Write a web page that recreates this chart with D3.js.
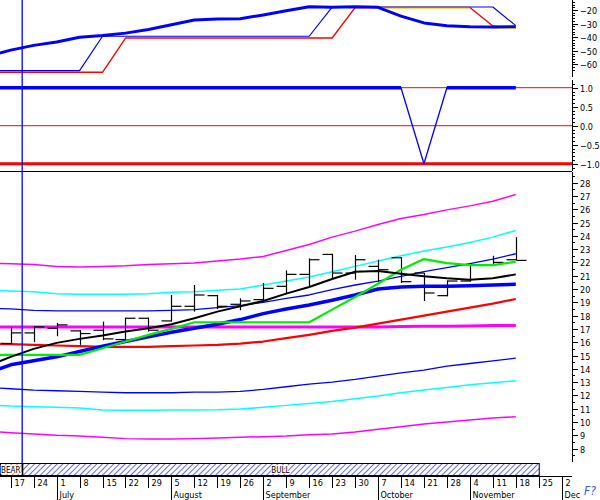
<!DOCTYPE html>
<html><head><meta charset="utf-8">
<script src="https://cdn.jsdelivr.net/npm/d3@7"></script>
<style>
body{margin:0;background:#fff}
svg{display:block;background:#fff}
text{font-family:"DejaVu Sans Condensed","Liberation Sans Narrow","DejaVu Sans",sans-serif;}
</style>
</head><body><svg id="c" width="600" height="500"></svg>
<script>
// ---------- DATA ----------
const weeks = ["2002-06-10","2002-06-17","2002-06-24","2002-07-01","2002-07-08","2002-07-15","2002-07-22","2002-07-29",
  "2002-08-05","2002-08-12","2002-08-19","2002-08-26","2002-09-02","2002-09-09","2002-09-16","2002-09-23","2002-09-30",
  "2002-10-07","2002-10-14","2002-10-21","2002-10-28","2002-11-04","2002-11-11","2002-11-18"];

// top panel
const p1Curve  = [-54,-49.5,-46,-43.5,-40,-38.8,-37,-34.3,-30.8,-27.3,-26.6,-26.4,-23.6,-20.5,-17.6,-18,-17.6,-18,-24.5,-29.5,-31.5,-32.3,-32.5,-32.3];
const p1Blue   = [-64.6,-64.6,-64.6,-64.6,-64.6,-39.3,-39.3,-39.3,-39.3,-39.3,-39.3,-39.3,-39.3,-39.3,-39.3,-17.8,-17.8,-17.8,-17.8,-17.8,-17.8,-17.8,-17.8,-31.5];
const p1Red    = [-65.8,-65.8,-65.8,-65.8,-65.8,-65.8,-40.6,-40.6,-40.6,-40.6,-40.6,-40.6,-40.6,-40.6,-40.6,-40.6,-18.2,-18.2,-18.2,-18.2,-18.2,-18.2,-31.8,-33.5];
const p1Yellow = [null,null,null,null,null,null,null,null,null,null,null,null,null,null,null,null,null,-18.2,-18.2,-18.2,-18.2,-18.2,-33.3,-33.5];
const p1YellowSegments = [[17,21],[22,23]];

// middle panel
const p2Blue = [1,1,1,1,1,1,1,1,1,1,1,1,1,1,1,1,1,1,1,-1,1,1,1,1];
const p2Levels = [1,0];
const p2ThickLevel = -1;

// price panel bands and averages
const upperMagenta = [21.95,21.9,21.85,21.7,21.65,21.7,21.75,21.85,21.9,21.95,22.1,22.25,22.45,22.9,23.35,23.9,24.35,24.85,25.3,25.6,25.95,26.25,26.6,27.1];
const upperCyan    = [19.9,19.85,19.8,19.65,19.6,19.6,19.6,19.65,19.75,19.8,19.9,20.0,20.3,20.6,20.9,21.3,21.7,22.1,22.5,22.85,23.15,23.5,23.9,24.4];
const upperBlue    = [18.55,18.5,18.4,18.35,18.35,18.35,18.35,18.35,18.4,18.45,18.6,18.75,19.0,19.3,19.55,19.95,20.3,20.6,20.95,21.3,21.6,21.9,22.25,22.65];
const midMagenta   = [17.15,17.15,17.15,17.15,17.15,17.15,17.15,17.15,17.15,17.15,17.15,17.15,17.15,17.15,17.15,17.15,17.15,17.15,17.18,17.2,17.2,17.22,17.25,17.25];
const redLine      = [15.9,15.85,15.8,15.75,15.7,15.65,15.65,15.65,15.7,15.75,15.8,15.9,16.05,16.3,16.55,16.85,17.1,17.4,17.7,18.0,18.3,18.6,18.9,19.25];
const thickBlue    = [13.7,14.3,14.6,14.9,15.3,15.7,16.05,16.4,16.75,17.05,17.35,17.7,18.15,18.5,18.8,19.15,19.55,20.0,20.15,20.2,20.2,20.25,20.3,20.35];
const blackLine    = [14.2,14.9,15.5,15.95,16.25,16.5,16.8,17.05,17.35,17.8,18.3,18.7,19.1,19.65,20.15,20.75,21.3,21.35,21.15,20.95,20.8,20.7,20.8,21.1];
const greenLine    = [15.05,15.05,15.05,15.05,15.05,15.55,16.05,16.55,17.0,17.5,17.5,17.5,17.5,17.5,17.5,18.45,19.4,20.4,21.45,22.25,21.95,21.8,21.8,22.05];
const lowerBlue    = [12.6,12.5,12.4,12.35,12.3,12.25,12.2,12.2,12.2,12.25,12.25,12.3,12.45,12.65,12.85,13.0,13.2,13.45,13.7,13.9,14.2,14.4,14.6,14.8];
const lowerCyan    = [11.3,11.2,11.15,11.1,11.05,10.9,10.88,10.88,10.9,10.9,10.92,10.98,11.1,11.25,11.4,11.55,11.75,11.95,12.2,12.4,12.6,12.8,12.95,13.1];
const lowerMagenta = [9.3,9.2,9.1,9.0,8.95,8.85,8.75,8.72,8.72,8.75,8.8,8.85,8.9,8.95,9.05,9.1,9.25,9.45,9.65,9.85,10.0,10.15,10.3,10.4];

// weekly price bars (Jun 17 .. Nov 18)
const barDates = weeks.slice(1);
const opens  = [15.9,16.7,17.05,16.85,16.9,16.2,17.8,17.6,18.7,19.5,18.85,19.2,20.2,21.1,22.6,21.2,21.7,22.35,21.2,19.5,20.6,21.8,22.2];
const highs  = [17.1,17.2,17.45,16.9,17.55,17.85,17.85,19.55,20.3,19.55,19.3,20.45,21.4,22.3,22.65,22.55,22.2,22.4,21.2,20.65,21.95,22.5,23.9];
const lows   = [15.9,16.0,16.45,15.8,16.15,16.1,16.8,17.55,18.3,18.5,18.4,19.05,19.7,20.2,20.8,20.7,20.55,20.45,19.1,19.45,20.55,21.75,22.15];
const closes = [16.7,17.15,17.3,16.65,16.25,17.8,16.9,18.7,19.55,18.7,19.1,20.05,21.1,22.2,21.2,22.2,21.45,20.55,19.7,20.6,21.8,22.0,22.15];

const cursorDate = "2002-06-20T12:00";

// axes tick labels
const p1Ticks = [-20,-30,-40,-50,-60];
const p2Ticks = [1.0,0.5,0.0,-0.5,-1.0];
const p3Ticks = d3.range(8,29);
const dateTicks = ["2002-06-17","2002-06-24","2002-07-01","2002-07-08","2002-07-15","2002-07-22","2002-07-29","2002-08-05",
  "2002-08-12","2002-08-19","2002-08-26","2002-09-02","2002-09-09","2002-09-16","2002-09-23","2002-09-30","2002-10-07",
  "2002-10-14","2002-10-21","2002-10-28","2002-11-04","2002-11-11","2002-11-18","2002-11-25","2002-12-02"];
const monthStarts = ["2002-07-01","2002-08-05","2002-09-02","2002-10-07","2002-11-04","2002-12-02"];
const monthNames = ["July","August","September","October","November","Dec"];
const trendLabels = ["BEAR","BULL"];
const trendSpans = [["2002-06-10","2002-06-20T12:00"],["2002-06-20T12:00","2002-11-25"]];

// ---------- DRAW ----------
const P = s => new Date(s.length > 10 ? s + ":00Z" : s + "T00:00:00Z");
const svg = d3.select("#c");
const AX = 572;

const x = d3.scaleUtc().domain([P("2002-06-17"), P("2002-12-02")]).range([10.7, 561.7]);
const y1 = d3.scaleLinear().domain([-20,-60]).range([10,64.4]);
const y2 = d3.scaleLinear().domain([1,-1]).range([87.7,163.7]);
const y3 = d3.scaleLinear().domain([20,10]).range([289,422]);

const wd = weeks.map(P);

const defs = svg.append("defs");
function hatch(id, color){
  const p = defs.append("pattern").attr("id", id).attr("width", 4).attr("height", 4)
    .attr("patternUnits","userSpaceOnUse").attr("patternTransform","rotate(45)");
  p.append("line").attr("x1",0).attr("y1",0).attr("x2",0).attr("y2",4).attr("stroke",color).attr("stroke-width",1.2);
}
hatch("hb","#0000ff"); hatch("hr","#ff0000");
defs.append("clipPath").attr("id","clip").append("rect").attr("x",0).attr("y",0).attr("width",AX).attr("height",463);

const plot = svg.append("g").attr("clip-path","url(#clip)");

function drawLine(vals, ys, color, w, defined){
  const ln = d3.line().x((d,i)=>x(wd[i])).y(d=>ys(d)).defined(defined || (d=>d!==null));
  plot.append("path").datum(vals).attr("d", ln).attr("fill","none")
    .attr("stroke", color).attr("stroke-width", w).attr("stroke-linejoin","round");
}

// ----- panel 1 -----
drawLine(p1Red, y1, "#ff0000", 1.4);
p1YellowSegments.forEach(([a,b])=>{
  const vals = p1Yellow.map((v,i)=> (i>=a && i<=b) ? v : null);
  drawLine(vals, y1, "#ffee00", 2);
});
drawLine(p1Blue, y1, "#0000ff", 1.2);
drawLine(p1Curve, y1, "#0000ff", 3);

// ----- panel 2 -----
p2Levels.forEach(v=>{
  plot.append("line").attr("x1",0).attr("x2",AX).attr("y1",y2(v)).attr("y2",y2(v)).attr("stroke","#ff0000").attr("stroke-width",1);
});
plot.append("line").attr("x1",0).attr("x2",AX).attr("y1",y2(p2ThickLevel)).attr("y2",y2(p2ThickLevel)).attr("stroke","#ff0000").attr("stroke-width",3);
drawLine(p2Blue, y2, "#0000ff", 1.3);
drawLine(p2Blue, y2, "#0000ff", 3.5, d=>d===1);

// separator
svg.append("line").attr("x1",0).attr("x2",AX).attr("y1",171.5).attr("y2",171.5).attr("stroke","#000").attr("stroke-width",1.2);

// ----- panel 3 -----
drawLine(upperMagenta, y3, "#ff00ff", 1.5);
drawLine(upperCyan, y3, "#00ffff", 1.5);
drawLine(upperBlue, y3, "#0000ff", 1.3);
drawLine(lowerBlue, y3, "#0000ff", 1.3);
drawLine(lowerCyan, y3, "#00ffff", 1.5);
drawLine(lowerMagenta, y3, "#ff00ff", 1.5);
drawLine(midMagenta, y3, "#ff00ff", 3);
drawLine(redLine, y3, "#ff0000", 2.2);

// price bars
const bars = plot.append("g").attr("stroke","#000").attr("stroke-width",1.2);
barDates.forEach((d,i)=>{
  const cx = Math.round(x(P(d))) + 0.5;
  bars.append("line").attr("x1",cx).attr("x2",cx).attr("y1",y3(highs[i])).attr("y2",y3(lows[i]));
  bars.append("line").attr("x1",cx-10).attr("x2",cx).attr("y1",y3(opens[i])).attr("y2",y3(opens[i]));
  bars.append("line").attr("x1",cx).attr("x2",cx+10).attr("y1",y3(closes[i])).attr("y2",y3(closes[i]));
});

drawLine(thickBlue, y3, "#0000ff", 3.5);
drawLine(greenLine, y3, "#00ee00", 2.2);
drawLine(blackLine, y3, "#000000", 2);

// ----- right axes -----
const axG = svg.append("g");
function axis(scale, y0, yEnd, majors, minors, fmt){
  axG.append("line").attr("x1",AX+0.5).attr("x2",AX+0.5).attr("y1",y0).attr("y2",yEnd).attr("stroke","#000");
  minors.forEach(v=>{
    const yy = Math.round(scale(v))+0.5;
    if (yy<y0||yy>yEnd) return;
    axG.append("line").attr("x1",AX).attr("x2",AX+3).attr("y1",yy).attr("y2",yy).attr("stroke","#000");
  });
  majors.forEach(v=>{
    const yy = Math.round(scale(v))+0.5;
    axG.append("line").attr("x1",AX).attr("x2",AX+6).attr("y1",yy).attr("y2",yy).attr("stroke","#000");
    axG.append("text").attr("x",580).attr("y",yy).attr("dy","0.35em").attr("font-size",9).attr("fill","#000").text(fmt(v));
  });
}
axis(y1, 0, 77, p1Ticks, d3.range(-64,-13,2), d3.format("d"));
axis(y2, 80, 171, p2Ticks, d3.range(-11,12).map(v=>v/10), d3.format(".1f"));
axis(y3, 172, 462, p3Ticks, d3.range(7.5,29,0.5), d3.format("d"));

// cursor line
svg.append("line").attr("x1",x(P(cursorDate))).attr("x2",x(P(cursorDate))).attr("y1",0).attr("y2",476)
  .attr("stroke","#0000ff").attr("stroke-width",1.3);

// ----- trend bar -----
const tb = svg.append("g");
trendSpans.forEach((s,i)=>{
  const x0 = Math.max(0, x(P(s[0]))), x1 = x(P(s[1]));
  tb.append("rect").attr("x",x0+0.5).attr("y",463.5).attr("width",x1-x0).attr("height",12)
    .attr("fill", i===0 ? "url(#hr)" : "url(#hb)").attr("stroke","#000").attr("stroke-width",1);
  const tx = i===0 ? x0+1 : (x0+x1)/2;
  tb.append("text").attr("x",tx).attr("y",472.5).attr("font-size",8)
    .attr("text-anchor", i===0 ? "start" : "middle").attr("fill","#000")
    .attr("paint-order","stroke").attr("stroke","#fff").attr("stroke-width",2).text(trendLabels[i]);
});

// ----- date axis -----
const xa = svg.append("g");
xa.append("line").attr("x1",0).attr("x2",AX).attr("y1",476.5).attr("y2",476.5).attr("stroke","#000");
dateTicks.forEach(d=>{
  const xx = Math.round(x(P(d)))+0.5;
  xa.append("line").attr("x1",xx).attr("x2",xx).attr("y1",477).attr("y2",488).attr("stroke","#000");
  xa.append("text").attr("x",xx+3).attr("y",486).attr("font-size",9).attr("fill","#000").text(P(d).getUTCDate());
});
monthStarts.forEach((d,i)=>{
  const xx = Math.round(x(P(d)))+0.5;
  xa.append("line").attr("x1",xx).attr("x2",xx).attr("y1",488).attr("y2",500).attr("stroke","#000");
  xa.append("text").attr("x",xx+2).attr("y",498).attr("font-size",9).attr("fill","#000").text(monthNames[i]);
});

// corner icon
svg.append("text").attr("x",584).attr("y",495).attr("font-size",12).attr("font-style","italic")
  .attr("fill","#3355ff").text("F?");
</script>
</body></html>
